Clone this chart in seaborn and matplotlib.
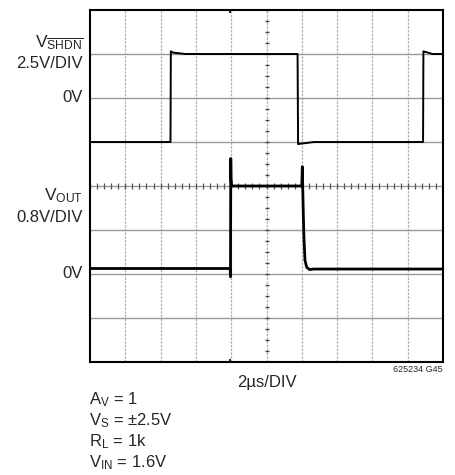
import numpy as np
import pandas as pd
import seaborn as sns
import matplotlib
matplotlib.use("Agg")
import matplotlib.pyplot as plt

# Scope settings
T_PER_DIV = 2.0        # µs/div
SHDN_PER_DIV = 2.5     # V/div
OUT_PER_DIV = 0.8      # V/div
SHDN_ZERO_DIV = 6      # graticule row of the SHDN 0V reference
OUT_ZERO_DIV = 2       # graticule row of the VOUT 0V reference
TRIG_T = 7.95          # trigger position, µs

# SHDN pin waveform (µs, V)
shdn_t = [0.0, 4.56, 4.58, 4.70, 5.40, 8.0, 11.76, 11.79, 11.90, 12.70, 16.0, 18.87, 18.89, 19.00, 19.40, 20.0]
shdn_v = [-2.5, -2.5, 2.65, 2.58, 2.50, 2.50, 2.50, -2.62, -2.60, -2.50, -2.50, -2.50, 2.65, 2.62, 2.50, 2.50]

# Amplifier output waveform (µs, V)
out_t = [0.0, 7.94, 7.96, 7.975, 7.99, 8.02, 12.00, 12.03, 12.05, 12.09, 12.12, 12.18, 12.28, 12.45, 12.65, 20.0]
out_v = [0.10, 0.10, -0.05, 2.10, 1.75, 1.60, 1.60, 1.95, 1.60, 1.04, 0.68, 0.25, 0.12, 0.08, 0.09, 0.09]

sns.set_theme(style="white")
FONT = ["Liberation Sans Narrow", "Liberation Sans", "DejaVu Sans"]
plt.rcParams["font.family"] = FONT
plt.rcParams["mathtext.fontset"] = "custom"
plt.rcParams["mathtext.rm"] = "Liberation Sans"
plt.rcParams["mathtext.it"] = "Liberation Sans"
plt.rcParams["mathtext.default"] = "rm"

W, H = 456, 475
fig = plt.figure(figsize=(W / 100, H / 100), dpi=100)
L, R, T, B = 90, 443, 10, 362
ax = fig.add_axes([L / W, 1 - B / H, (R - L) / W, (B - T) / H])

NX, NY = 10, 8
ax.set_xlim(0, NX)
ax.set_ylim(0, NY)

# Graticule
grid_col = "#9a9a9a"
for i in range(1, NX):
    ax.axvline(i, color="#b0b0b0", lw=0.9, ls=(0, (2, 1)), zorder=1)
for j in range(1, NY):
    ax.axhline(j, color=grid_col, lw=1.0, zorder=1)
# Centre-line subdivisions
xs = np.arange(0, NX + 0.01, 0.2)
ax.plot(xs, np.full_like(xs, NY / 2), ls="none", marker="|", ms=5, mew=0.9, color="#555555", zorder=2)
ys = np.arange(0, NY + 0.01, 0.25)
ax.plot(np.full_like(ys, NX / 2), ys, ls="none", marker="_", ms=3, mew=1.0, color="#444444", zorder=2)
# Trigger markers on the top and bottom edges
ax.plot([TRIG_T / T_PER_DIV] * 2, [0.03, NY - 0.03], ls="none", marker="|", ms=3, mew=1.2,
        color="black", zorder=4, clip_on=False)

# Traces in graticule units
shdn_df = pd.DataFrame({"x": np.array(shdn_t) / T_PER_DIV,
                        "y": SHDN_ZERO_DIV + np.array(shdn_v) / SHDN_PER_DIV})
out_df = pd.DataFrame({"x": np.array(out_t) / T_PER_DIV,
                       "y": OUT_ZERO_DIV + np.array(out_v) / OUT_PER_DIV})
sns.lineplot(data=shdn_df, x="x", y="y", sort=False, estimator=None, color="black", lw=1.4, ax=ax, zorder=3)
sns.lineplot(data=out_df, x="x", y="y", sort=False, estimator=None, color="black", lw=2.0, ax=ax, zorder=3)

ax.set_xticks([])
ax.set_yticks([])
ax.set_xlabel("")
ax.set_ylabel("")
for s in ax.spines.values():
    s.set_visible(True)
    s.set_color("black")
    s.set_linewidth(1.5)

def ftext(x, y, s, **kw):
    fig.text(x / W, 1 - y / H, s, **kw)

fs = 12
ftext(83, 43, r"$\mathrm{V_{\overline{SHDN}}}$", ha="right", va="center", fontsize=fs + 0.5)
ftext(83, 63, "2.5V/DIV", ha="right", va="center", fontsize=fs)
ftext(83, 98, "0V", ha="right", va="center", fontsize=fs)
ftext(83, 196, r"$\mathrm{V_{OUT}}$", ha="right", va="center", fontsize=fs + 0.5)
ftext(83, 217, "0.8V/DIV", ha="right", va="center", fontsize=fs)
ftext(83, 274, "0V", ha="right", va="center", fontsize=fs)

ftext(267, 382, "2µs/DIV", ha="center", va="center", fontsize=fs)
ftext(443, 370, "625234 G45", ha="right", va="center", fontsize=6.5)

ftext(89, 400, r"$\mathrm{A_V}$ = 1", ha="left", va="center", fontsize=fs)
ftext(89, 421, r"$\mathrm{V_S}$ = ±2.5V", ha="left", va="center", fontsize=fs)
ftext(89, 442, r"$\mathrm{R_L}$ = 1k", ha="left", va="center", fontsize=fs)
ftext(89, 463, r"$\mathrm{V_{IN}}$ = 1.6V", ha="left", va="center", fontsize=fs)

fig.savefig("out.png", dpi=100, facecolor="white")
